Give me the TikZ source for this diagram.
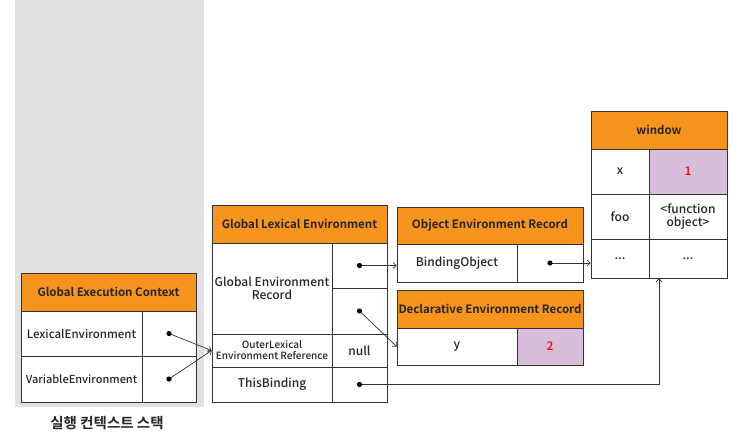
\documentclass[tikz,border=0pt]{standalone}
\usepackage{fontspec}
\setmainfont{Noto Sans CJK KR}[UprightFont={* Medium}, BoldFont={* Bold}]
\usetikzlibrary{arrows.meta}

\definecolor{headorange}{HTML}{F7941D}
\definecolor{valpurple}{HTML}{D9BEDC}
\definecolor{stackgray}{HTML}{E1E1E1}
\definecolor{linecol}{HTML}{333333}

\tikzset{
	cell/.style={draw=linecol, fill=white, line width=0.8pt, inner sep=0pt, align=center, text=black!85,
			font=\fontsize{12}{13.5}\selectfont},
	head/.style={cell, fill=headorange, font=\bfseries\fontsize{11.5}{12.5}\selectfont},
	held/.style={cell, fill=valpurple, text=red},
	sz/.style 2 args={minimum width=#1pt, minimum height=#2pt},
	conn/.style={linecol, line width=0.7pt, -{Straight Barb[length=3pt,width=6pt]}},
}

\begin{document}
\begin{tikzpicture}[x=1pt,y=-1pt]
	\useasboundingbox (0,0) rectangle (745,442);
	\fill[stackgray] (15,0) rectangle (204,407);

	% execution context
	\node[head, sz={175}{38}] (gec) at (108.5,292) {Global Execution Context};
	\node[cell, sz={121}{45}, font=\fontsize{11.5}{13}\selectfont] (lexk) at (81.5,333.5) {LexicalEnvironment};
	\node[cell, sz={54}{45}] (lexv) at (169,333.5) {};
	\node[cell, sz={121}{46}, font=\fontsize{11}{13}\selectfont] (vark) at (81.5,379) {VariableEnvironment};
	\node[cell, sz={54}{46}] (varv) at (169,379) {};
	\node[font=\bfseries\fontsize{14.5}{16}\selectfont, text=black!85] (stack) at (107,423) {실행 컨텍스트 스택};

	% global lexical environment
	\node[head, sz={175}{38}] (gle) at (299.5,224) {Global Lexical Environment};
	\node[cell, sz={120}{91}] (gerk) at (272,288.5) {Global Environment\\Record};
	\node[cell, sz={55}{45}] (gerv1) at (359.5,265.5) {};
	\node[cell, sz={55}{46}] (gerv2) at (359.5,311) {};
	\node[cell, sz={120}{33}, font=\fontsize{10}{11}\selectfont] (outk) at (272,350.5) {OuterLexical\\Environment Reference};
	\node[cell, sz={55}{33}] (outv) at (359.5,350.5) {null};
	\node[cell, sz={120}{35}] (thisk) at (272,384.5) {ThisBinding};
	\node[cell, sz={55}{35}] (thisv) at (359.5,384.5) {};

	% object environment record
	\node[head, sz={186}{37}] (oer) at (490,225.5) {Object Environment Record};
	\node[cell, sz={120}{38}] (bindk) at (457,263) {BindingObject};
	\node[cell, sz={66}{38}] (bindv) at (550,263) {};

	% declarative environment record
	\node[head, sz={186}{38}] (der) at (490,309) {Declarative Environment Record};
	\node[cell, sz={120}{37}] (yk) at (457,346.5) {y};
	\node[held, sz={66}{37}] (yv) at (550,346.5) {2};

	% window
	\node[head, sz={136}{38}] (win) at (659,130) {window};
	\node[cell, sz={58}{45}] (xk) at (620,171.5) {x};
	\node[held, sz={78}{45}] (xv) at (688,171.5) {1};
	\node[cell, sz={58}{45}] (fook) at (620,216.5) {foo};
	\node[cell, sz={78}{45}] (foov) at (688,216.5) {<function\\object>};
	\node[cell, sz={58}{39}] (restk) at (620,258.5) {...};
	\node[cell, sz={78}{39}] (restv) at (688,258.5) {...};

	% connectors
	\draw[conn] (lexv.center) -- (outk.west);
	\draw[conn] (varv.center) -- (outk.west);
	\draw[conn] (gerv1.center) -- (gerv1.center -| bindk.west);
	\draw[conn] (gerv2.center) -- (yk.west);
	\draw[conn] (bindv.center) -- (bindv.center -| restk.west);
	\draw[conn] (thisv.center) -| (win.center |- restv.south);

	\foreach \n in {lexv, varv, gerv1, gerv2, thisv, bindv}{
			\fill[black] (\n.center) circle (2.6pt);
		}
\end{tikzpicture}
\end{document}
